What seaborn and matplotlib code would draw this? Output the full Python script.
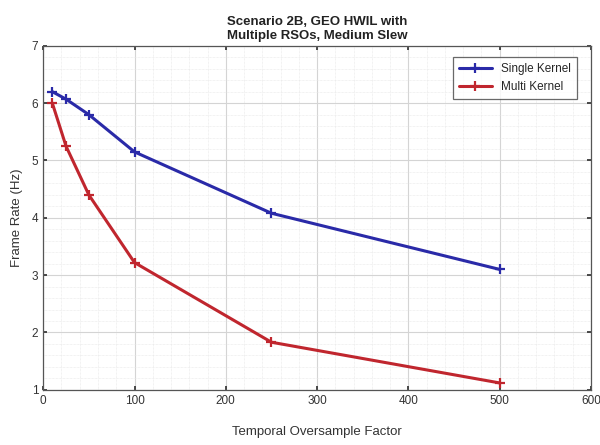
import matplotlib
matplotlib.use("Agg")
import matplotlib.pyplot as plt
import seaborn as sns
import pandas as pd
from matplotlib.ticker import MultipleLocator

oversample = [10, 25, 50, 100, 250, 500]
single_kernel = [6.2, 6.07, 5.8, 5.15, 4.08, 3.1]
multi_kernel = [6.0, 5.25, 4.4, 3.22, 1.83, 1.12]
series_names = ["Single Kernel", "Multi Kernel"]

df = pd.concat([
    pd.DataFrame({"x": oversample, "y": single_kernel, "series": series_names[0]}),
    pd.DataFrame({"x": oversample, "y": multi_kernel, "series": series_names[1]}),
])

sns.set_theme(style="white")
plt.rcParams['font.family'] = ['Liberation Sans', 'DejaVu Sans']

fig = plt.figure(figsize=(6, 4.45), dpi=100)
ax = fig.add_axes([0.072, 0.124, 0.913, 0.773])

palette = {"Single Kernel": "#2a2aa8", "Multi Kernel": "#c0262e"}
sns.lineplot(data=df, x="x", y="y", hue="series", palette=palette, marker="+",
             markersize=7, markeredgewidth=1.6, linewidth=2.2, ax=ax, sort=False,
             legend=False)
for line in ax.lines:
    line.set_markeredgecolor(line.get_color())
    line.set_markerfacecolor(line.get_color())

ax.set_xlim(0, 600)
ax.set_ylim(1, 7)
ax.xaxis.set_major_locator(MultipleLocator(100))
ax.yaxis.set_major_locator(MultipleLocator(1))
ax.xaxis.set_minor_locator(MultipleLocator(20))
ax.yaxis.set_minor_locator(MultipleLocator(0.2))
ax.grid(which="major", color="#d4d4d4", linewidth=0.8)
ax.grid(which="minor", color="#e6e6e6", linewidth=0.5, linestyle=(0, (1, 1)))
ax.set_axisbelow(True)
for s in ax.spines.values():
    s.set_color("#555555")
    s.set_linewidth(0.9)
ax.tick_params(axis="both", which="major", labelsize=8.5, colors="#333333", length=3, direction="in")
ax.tick_params(axis="both", which="both", bottom=True, left=True, top=True, right=True)
ax.tick_params(axis="both", which="minor", length=0)

ax.set_xlabel("Temporal Oversample Factor", fontsize=9.5, color="#333333", labelpad=14)
ax.set_ylabel("Frame Rate (Hz)", fontsize=9.5, color="#333333", labelpad=6)
ax.set_title("Scenario 2B, GEO HWIL with\nMultiple RSOs, Medium Slew", fontsize=9.5,
             fontweight="bold", color="#222222", pad=5)

leg = ax.legend(ax.lines[:2], series_names, loc="upper right", fontsize=8.5, frameon=True,
                fancybox=False, edgecolor="#444444", borderpad=0.5, handlelength=2.8,
                bbox_to_anchor=(0.985, 0.985))
leg.get_frame().set_linewidth(0.9)

fig.savefig("out.png", dpi=100)
